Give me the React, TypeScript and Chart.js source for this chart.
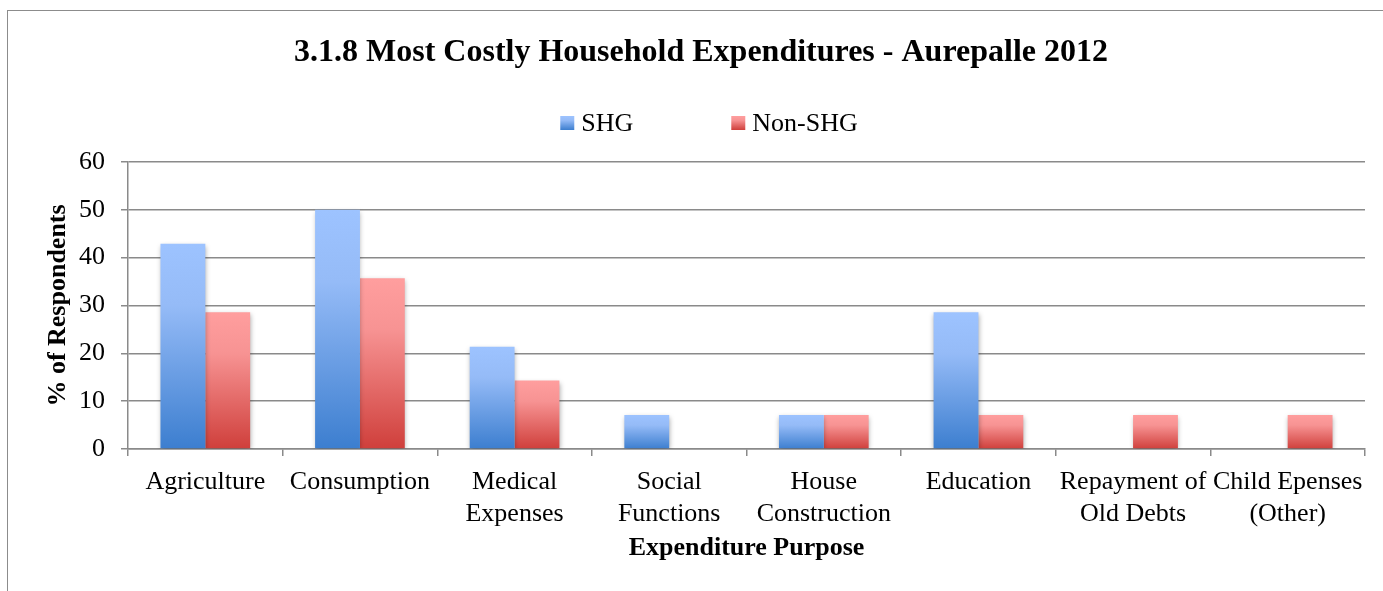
import React, { useEffect, useRef } from "react";
import { Chart, registerables } from "chart.js";

Chart.register(...registerables);

// ---- Data ----
const chartTitle = "3.1.8 Most Costly Household Expenditures - Aurepalle 2012";
const categories: string[][] = [
  ["Agriculture"],
  ["Consumption"],
  ["Medical", "Expenses"],
  ["Social", "Functions"],
  ["House", "Construction"],
  ["Education"],
  ["Repayment of", "Old Debts"],
  ["Child Epenses", "(Other)"],
];
const seriesNames = ["SHG", "Non-SHG"];
const shgValues = [42.9, 50.0, 21.4, 7.1, 7.1, 28.6, 0, 0];
const nonShgValues = [28.6, 35.7, 14.3, 0, 7.1, 7.1, 7.1, 7.1];
const yMin = 0;
const yMax = 60;
const yStep = 10;
const yAxisTitle = "% of Respondents";
const xAxisTitle = "Expenditure Purpose";

// ---- Styles ----
const FONT = "'Liberation Serif', 'Times New Roman', serif";
const GRID = "#8a8a8a";
const blueStops: [number, string][] = [
  [0, "#9dc3ff"],
  [0.3, "#95bbf7"],
  [1, "#3c7ecf"],
];
const redStops: [number, string][] = [
  [0, "#ff9e9e"],
  [0.3, "#f79393"],
  [1, "#cf3f3b"],
];
const palettes = [blueStops, redStops];
const LEGEND_CX = 701;
const LEGEND_CY = 112;

function makeGradient(ctx: CanvasRenderingContext2D, top: number, bottom: number, stops: [number, string][]) {
  const g = ctx.createLinearGradient(0, top, 0, bottom);
  stops.forEach(([o, c]) => g.addColorStop(o, c));
  return g;
}

const barFill = (stops: [number, string][]) => (context: any) => {
  const chart = context.chart;
  const y = chart.scales?.y;
  if (!chart.chartArea || !y) return stops[stops.length - 1][1];
  const v = context.raw as number;
  const top = y.getPixelForValue(v);
  const bottom = y.getPixelForValue(0);
  if (Math.abs(bottom - top) < 0.5) return stops[stops.length - 1][1];
  return makeGradient(chart.ctx, top, bottom, stops);
};

const shadowPlugin = {
  id: "barShadow",
  beforeDatasetsDraw(chart: any) {
    const ctx = chart.ctx;
    ctx.save();
    ctx.shadowColor = "rgba(0,0,0,0.35)";
    ctx.shadowBlur = 5;
    ctx.shadowOffsetX = 0.5;
    ctx.shadowOffsetY = 2;
  },
  afterDatasetsDraw(chart: any) {
    chart.ctx.restore();
  },
};

const legendPlugin = {
  id: "customLegend",
  afterDraw(chart: any) {
    const ctx: CanvasRenderingContext2D = chart.ctx;
    ctx.save();
    ctx.font = `26px ${FONT}`;
    ctx.textBaseline = "middle";
    ctx.textAlign = "left";
    const box = 14;
    const gapText = 7;
    const gapItem = 98;
    const items = chart.data.datasets.map((ds: any, i: number) => ({
      text: ds.label as string,
      w: ctx.measureText(ds.label).width,
      i,
    }));
    const total =
      items.reduce((s: number, it: any) => s + box + gapText + it.w, 0) + gapItem * (items.length - 1);
    let x = LEGEND_CX - total / 2;
    const y = LEGEND_CY;
    items.forEach((it: any) => {
      ctx.fillStyle = makeGradient(ctx, y - box / 2, y + box / 2, palettes[it.i]);
      ctx.fillRect(x, y - box / 2, box, box);
      x += box + gapText;
      ctx.fillStyle = "#000";
      ctx.fillText(it.text, x, y + 1);
      x += it.w + gapItem;
    });
    ctx.restore();
  },
};

export default function App() {
  const canvasRef = useRef<HTMLCanvasElement | null>(null);

  useEffect(() => {
    if (!canvasRef.current) return;
    const chart = new Chart(canvasRef.current, {
      type: "bar",
      data: {
        labels: categories,
        datasets: [
          {
            label: seriesNames[0],
            data: shgValues,
            backgroundColor: barFill(blueStops),
            borderWidth: 0,
            barPercentage: 1,
            categoryPercentage: 0.58,
          },
          {
            label: seriesNames[1],
            data: nonShgValues,
            backgroundColor: barFill(redStops),
            borderWidth: 0,
            barPercentage: 1,
            categoryPercentage: 0.58,
          },
        ],
      },
      options: {
        animation: false,
        responsive: false,
        devicePixelRatio: 1,
        layout: { padding: { top: 0, left: 29, right: 29, bottom: 0 } },
        plugins: {
          legend: { display: false },
          tooltip: { enabled: false },
          title: {
            display: true,
            text: chartTitle,
            color: "#000",
            font: { family: FONT, size: 32, weight: "bold" },
            padding: { top: 23, bottom: 89.6 },
          },
        },
        scales: {
          x: {
            grid: {
              display: true,
              drawOnChartArea: false,
              drawTicks: true,
              tickLength: 7,
              color: GRID,
              lineWidth: 1.5,
              offset: true,
            },
            border: { display: true, color: GRID, width: 1.5 },
            ticks: {
              color: "#000",
              font: { family: FONT, size: 26, lineHeight: 1.2 },
              padding: 11,
              maxRotation: 0,
              minRotation: 0,
              autoSkip: false,
            },
            title: {
              display: true,
              text: xAxisTitle,
              color: "#000",
              font: { family: FONT, size: 26, weight: "bold", lineHeight: 1.2 },
              padding: { top: 0, bottom: 27 },
            },
            afterFit(scale: any) {
              scale.height = 142;
            },
          },
          y: {
            min: yMin,
            max: yMax,
            grid: {
              color: GRID,
              lineWidth: 1.5,
              drawTicks: true,
              tickLength: 7,
            },
            border: { display: true, color: GRID, width: 1.5 },
            ticks: {
              stepSize: yStep,
              color: "#000",
              font: { family: FONT, size: 26 },
              padding: 16,
            },
            title: {
              display: true,
              text: yAxisTitle,
              color: "#000",
              font: { family: FONT, size: 26, weight: "bold", lineHeight: 1.2 },
              padding: { top: 5.4, bottom: 0 },
            },
            afterFit(scale: any) {
              scale.width = 91;
            },
          },
        },
      },
      plugins: [shadowPlugin, legendPlugin],
    } as any);
    return () => chart.destroy();
  }, []);

  return (
    <div style={{ position: "absolute", left: 0, top: 0, width: 1383, height: 591, overflow: "hidden", background: "#fff" }}>
      <div
        style={{
          position: "absolute",
          left: 7,
          top: 10,
          width: 1400,
          height: 600,
          border: "1px solid #8c8c8c",
        }}
      >
        <canvas
          ref={canvasRef}
          width={1386}
          height={580}
          style={{ display: "block", width: 1386, height: 580 }}
        />
      </div>
    </div>
  );
}
